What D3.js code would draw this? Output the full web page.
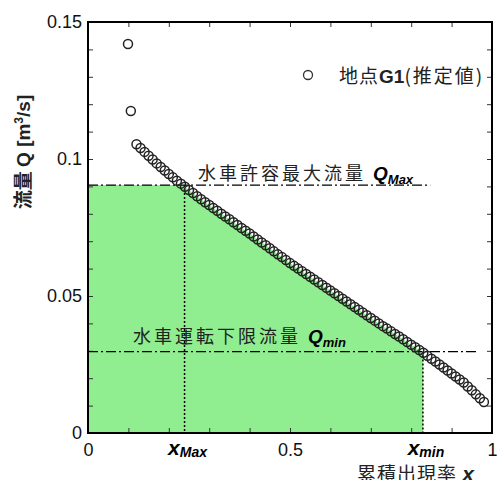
<!DOCTYPE html>
<html>
<head>
<meta charset="utf-8">
<script src="https://cdn.jsdelivr.net/npm/d3@7"></script>
<style>
  body { margin: 0; background: #fff; }
  svg { display: block; }
  text { font-family: Arial, "Liberation Sans", "Noto Sans CJK JP", sans-serif; }
  .cjk { font-family: "Noto Sans CJK JP", sans-serif; }
</style>
</head>
<body>
<div id="chart"></div>
<script>
// flow duration curve
let xVals = [0.099, 0.106,
  0.12, 0.13, 0.14, 0.15, 0.16, 0.17, 0.18, 0.19, 0.20,
  0.21, 0.22, 0.23, 0.24, 0.25, 0.26, 0.27, 0.28, 0.29, 0.30,
  0.31, 0.32, 0.33, 0.34, 0.35, 0.36, 0.37, 0.38, 0.39, 0.40,
  0.41, 0.42, 0.43, 0.44, 0.45, 0.46, 0.47, 0.48, 0.49, 0.50,
  0.51, 0.52, 0.53, 0.54, 0.55, 0.56, 0.57, 0.58, 0.59, 0.60,
  0.61, 0.62, 0.63, 0.64, 0.65, 0.66, 0.67, 0.68, 0.69, 0.70,
  0.71, 0.72, 0.73, 0.74, 0.75, 0.76, 0.77, 0.78, 0.79, 0.80,
  0.81, 0.82, 0.83, 0.84, 0.85, 0.86, 0.87, 0.88, 0.89, 0.90,
  0.91, 0.92, 0.93, 0.94, 0.95, 0.96, 0.97, 0.98];
let qVals = [0.142, 0.1175,
  0.1054, 0.1040, 0.1026, 0.1012, 0.0998, 0.0984, 0.0971, 0.0958, 0.0945,
  0.0933, 0.0921, 0.0910, 0.0899, 0.0887, 0.0876, 0.0864, 0.0853, 0.0842, 0.0832,
  0.0821, 0.0811, 0.0800, 0.0790, 0.0780, 0.0769, 0.0759, 0.0748, 0.0738, 0.0728,
  0.0717, 0.0706, 0.0695, 0.0685, 0.0674, 0.0663, 0.0652, 0.0642, 0.0631, 0.0620,
  0.0610, 0.0600, 0.0590, 0.0580, 0.0570, 0.0560, 0.0550, 0.0540, 0.0530, 0.0520,
  0.0510, 0.0500, 0.0490, 0.0480, 0.0470, 0.0460, 0.0450, 0.0440, 0.0430, 0.0420,
  0.0410, 0.0400, 0.0390, 0.0381, 0.0371, 0.0361, 0.0352, 0.0342, 0.0332, 0.0322,
  0.0313, 0.0303, 0.0293, 0.0282, 0.0271, 0.0261, 0.0250, 0.0239, 0.0228, 0.0217,
  0.0206, 0.0195, 0.0184, 0.0170, 0.0156, 0.0141, 0.0127, 0.0113];

let qMax = 0.0905, qMin = 0.0297;
let xMax = 0.239, xMin = 0.829;
let qMaxLineEnd = 0.847, qMinLineEnd = 0.963;

let xTicks = [0, 0.1, 0.2, 0.3, 0.4, 0.5, 0.6, 0.7, 0.8, 0.9, 1];
let xTickLabels = {0: "0", 0.5: "0.5", 1: "1"};
let yTicks = d3.range(0, 16).map(d => d / 100);
let yTickLabels = {0: "0", 5: "0.05", 10: "0.1", 15: "0.15"};

let margin = {top: 22, left: 88, bottom: 47, right: 6};
let W = 498, H = 480;
let width = W - margin.left - margin.right;
let height = H - margin.top - margin.bottom;

let x = d3.scaleLinear().domain([0, 1]).range([0, width]);
let y = d3.scaleLinear().domain([0, 0.15]).range([height, 0]);

let svg = d3.select("#chart").append("svg")
  .attr("width", W).attr("height", H);
let g = svg.append("g").attr("transform", `translate(${margin.left},${margin.top})`);

let pts = xVals.map((d, i) => ({x: d, q: qVals[i]}));

// green area: capped at Qmax, following the curve down to x_min
let areaPts = [{x: 0, q: qMax}, {x: xMax, q: qMax}]
  .concat(pts.filter(p => p.x > xMax && p.x < xMin))
  .concat([{x: xMin, q: qMin}]);
let area = d3.area().x(d => x(d.x)).y0(y(0)).y1(d => y(d.q));
g.append("path").datum(areaPts).attr("d", area).attr("fill", "#90ee90");

// ticks (inward on all sides)
g.append("g").attr("transform", `translate(0,${height})`)
  .call(d3.axisBottom(x).tickValues(xTicks).tickSize(-5).tickSizeOuter(0).tickPadding(10)
    .tickFormat(d => xTickLabels[d] || ""));
g.append("g")
  .call(d3.axisTop(x).tickValues(xTicks).tickSize(-5).tickSizeOuter(0).tickFormat(""));
g.append("g")
  .call(d3.axisLeft(y).tickValues(yTicks).tickSize(-5).tickSizeOuter(0).tickPadding(6)
    .tickFormat(d => yTickLabels[Math.round(d * 100)] || ""));
g.append("g").attr("transform", `translate(${width},0)`)
  .call(d3.axisRight(y).tickValues(yTicks).tickSize(-5).tickSizeOuter(0).tickFormat(""));

g.selectAll(".domain").remove();
g.selectAll(".tick line").attr("stroke", "#333").attr("stroke-width", 1);
g.selectAll(".tick text").attr("font-size", 18).attr("fill", "#111");

// frame
g.append("rect").attr("width", width).attr("height", height)
  .attr("fill", "none").attr("stroke", "#000").attr("stroke-width", 2);

// Qmax / Qmin lines
g.append("line")
  .attr("x1", x(0)).attr("x2", x(qMaxLineEnd)).attr("y1", y(qMax)).attr("y2", y(qMax))
  .attr("stroke", "#000").attr("stroke-width", 1.2).attr("stroke-dasharray", "10,3,2,3");
g.append("line")
  .attr("x1", x(0)).attr("x2", x(qMinLineEnd)).attr("y1", y(qMin)).attr("y2", y(qMin))
  .attr("stroke", "#000").attr("stroke-width", 1.2).attr("stroke-dasharray", "10,3,2,3");

// x_Max / x_min dotted verticals
g.append("line")
  .attr("x1", x(xMax)).attr("x2", x(xMax)).attr("y1", y(qMax)).attr("y2", y(0))
  .attr("stroke", "#000").attr("stroke-width", 1.5).attr("stroke-dasharray", "2,2");
g.append("line")
  .attr("x1", x(xMin)).attr("x2", x(xMin)).attr("y1", y(qMin)).attr("y2", y(0))
  .attr("stroke", "#000").attr("stroke-width", 1.5).attr("stroke-dasharray", "2,2");

// data circles
g.selectAll("circle.pt").data(pts).enter().append("circle")
  .attr("class", "pt")
  .attr("cx", d => x(d.x)).attr("cy", d => y(d.q)).attr("r", 4.5)
  .attr("fill", "none").attr("stroke", "#222").attr("stroke-width", 1.5);

// x_Max / x_min tick labels
function subLabel(px, main, sub) {
  let t = g.append("text").attr("x", px).attr("y", height + 22)
    .attr("text-anchor", "middle").attr("font-weight", "bold").attr("font-style", "italic");
  t.append("tspan").attr("font-size", 21).text(main);
  t.append("tspan").attr("font-size", 14).attr("dy", 2).text(sub);
}
subLabel(x(xMax) + 3, "x", "Max");
subLabel(x(xMin) + 3, "x", "min");

// line annotations
function lineLabel(px, py, jp, sub) {
  let t = g.append("text").attr("x", px).attr("y", py).attr("fill", "#222");
  t.append("tspan").attr("class", "cjk").attr("font-size", 18)
    .attr("letter-spacing", 3).text(jp);
  t.append("tspan").attr("font-size", 19).attr("font-weight", "bold")
    .attr("font-style", "italic").attr("fill", "#000").text("Q");
  t.append("tspan").attr("font-size", 13).attr("font-weight", "bold")
    .attr("font-style", "italic").attr("fill", "#000").attr("dy", 4).text(sub);
}
lineLabel(110, 158, "水車許容最大流量 ", "Max");
lineLabel(45, 321, "水車運転下限流量 ", "min");

// legend
g.append("circle").attr("cx", 220).attr("cy", 53).attr("r", 4.5)
  .attr("fill", "none").attr("stroke", "#333").attr("stroke-width", 1.3);
let leg = g.append("text").attr("x", 251).attr("y", 61).attr("fill", "#222");
leg.append("tspan").attr("class", "cjk").attr("font-size", 19).attr("letter-spacing", 1).text("地点");
leg.append("tspan").attr("font-size", 19).attr("font-weight", "bold").text("G1");
leg.append("tspan").attr("class", "cjk").attr("font-size", 19).attr("letter-spacing", 2).text("(推定値)");

// axis titles
let yt = svg.append("text")
  .attr("transform", "translate(30,152) rotate(-90)")
  .attr("text-anchor", "middle").attr("font-weight", "bold").attr("font-size", 19).attr("fill", "#222");
yt.append("tspan").attr("class", "cjk").text("流量 ");
yt.append("tspan").text("Q [m");
yt.append("tspan").attr("font-size", 12).attr("dy", -7).text("3");
yt.append("tspan").attr("dy", 7).text("/s]");

let xt = svg.append("text").attr("x", 357).attr("y", 481).attr("fill", "#222");
xt.append("tspan").attr("class", "cjk").attr("font-size", 19).attr("letter-spacing", 1).text("累積出現率 ");
xt.append("tspan").attr("font-size", 21).attr("font-weight", "bold").attr("font-style", "italic").text("x");
</script>
</body>
</html>
